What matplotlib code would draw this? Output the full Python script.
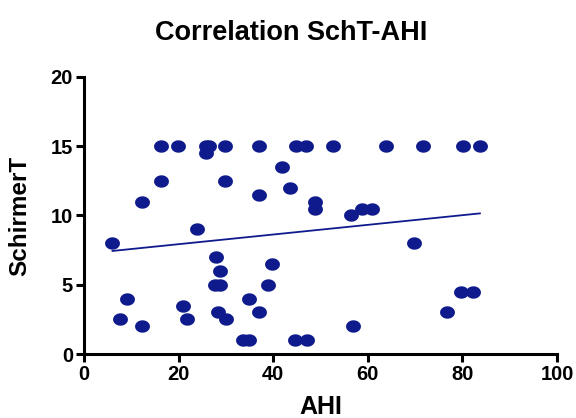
import numpy as np
import matplotlib
matplotlib.use('Agg')
import matplotlib.pyplot as plt

plt.rcParams['font.family'] = ['Liberation Sans', 'DejaVu Sans']

ahi = [6, 7.6, 9, 12.3, 12.2, 16.2, 16.2, 19.8, 23.8, 21, 21.8, 25.7, 26.5, 25.7,
       29.8, 29.8, 27.8, 28.75, 27.7, 28.8, 28.3, 30, 36.9, 36.9, 34.8, 36.9,
       33.7, 34.9, 39.7, 38.8, 41.8, 43.6, 44.8, 46.9, 44.5, 47.1, 48.8, 48.8,
       52.7, 63.8, 71.7, 80.1, 83.7, 56.4, 58.8, 60.8, 69.8, 79.8, 82.3, 76.7, 56.8]
schirmer = [8, 2.5, 4, 11, 2, 15, 12.5, 15, 9, 3.5, 2.5, 15, 15, 14.5,
            15, 12.5, 7, 6, 5, 5, 3, 2.5, 15, 11.5, 4, 3,
            1, 1, 6.5, 5, 13.5, 12, 15, 15, 1, 1, 11, 10.5,
            15, 15, 15, 15, 15, 10, 10.5, 10.5, 8, 4.5, 4.5, 3, 2]

navy = '#0f1a8c'

fig = plt.figure(figsize=(5.76, 4.18), dpi=100)
ax = fig.add_axes([0.146, 0.153, 0.821, 0.663])

# ellipse marker, wider than tall
t = np.linspace(0, 2 * np.pi, 40)
ell = np.column_stack([1.2 * np.cos(t), np.sin(t)])
ax.scatter(ahi, schirmer, marker=ell, s=115, color=navy, linewidths=0, zorder=3)

# linear fit
slope, icpt = np.polyfit(ahi, schirmer, 1)
xs = np.array([min(ahi), max(ahi)])
ax.plot(xs, slope * xs + icpt, color=navy, lw=1.3, zorder=2)

ax.set_xlim(0, 100)
ax.set_ylim(0, 20)
ax.set_xticks([0, 20, 40, 60, 80, 100])
ax.set_yticks([0, 5, 10, 15, 20])
for s in ['top', 'right']:
    ax.spines[s].set_visible(False)
for s in ['left', 'bottom']:
    ax.spines[s].set_linewidth(2.2)
ax.tick_params(width=2.2, length=6, labelsize=14.5, pad=2)
for lbl in ax.get_xticklabels() + ax.get_yticklabels():
    lbl.set_fontweight('bold')

ax.set_xlabel('AHI', fontsize=18, fontweight='bold', labelpad=8)
ax.set_ylabel('SchirmerT', fontsize=17.5, fontweight='bold', labelpad=14)
fig.text(0.505, 0.922, 'Correlation SchT-AHI', ha='center', va='center',
         fontsize=19.5, fontweight='bold')

plt.savefig('out.png', dpi=100)
plt.close()
